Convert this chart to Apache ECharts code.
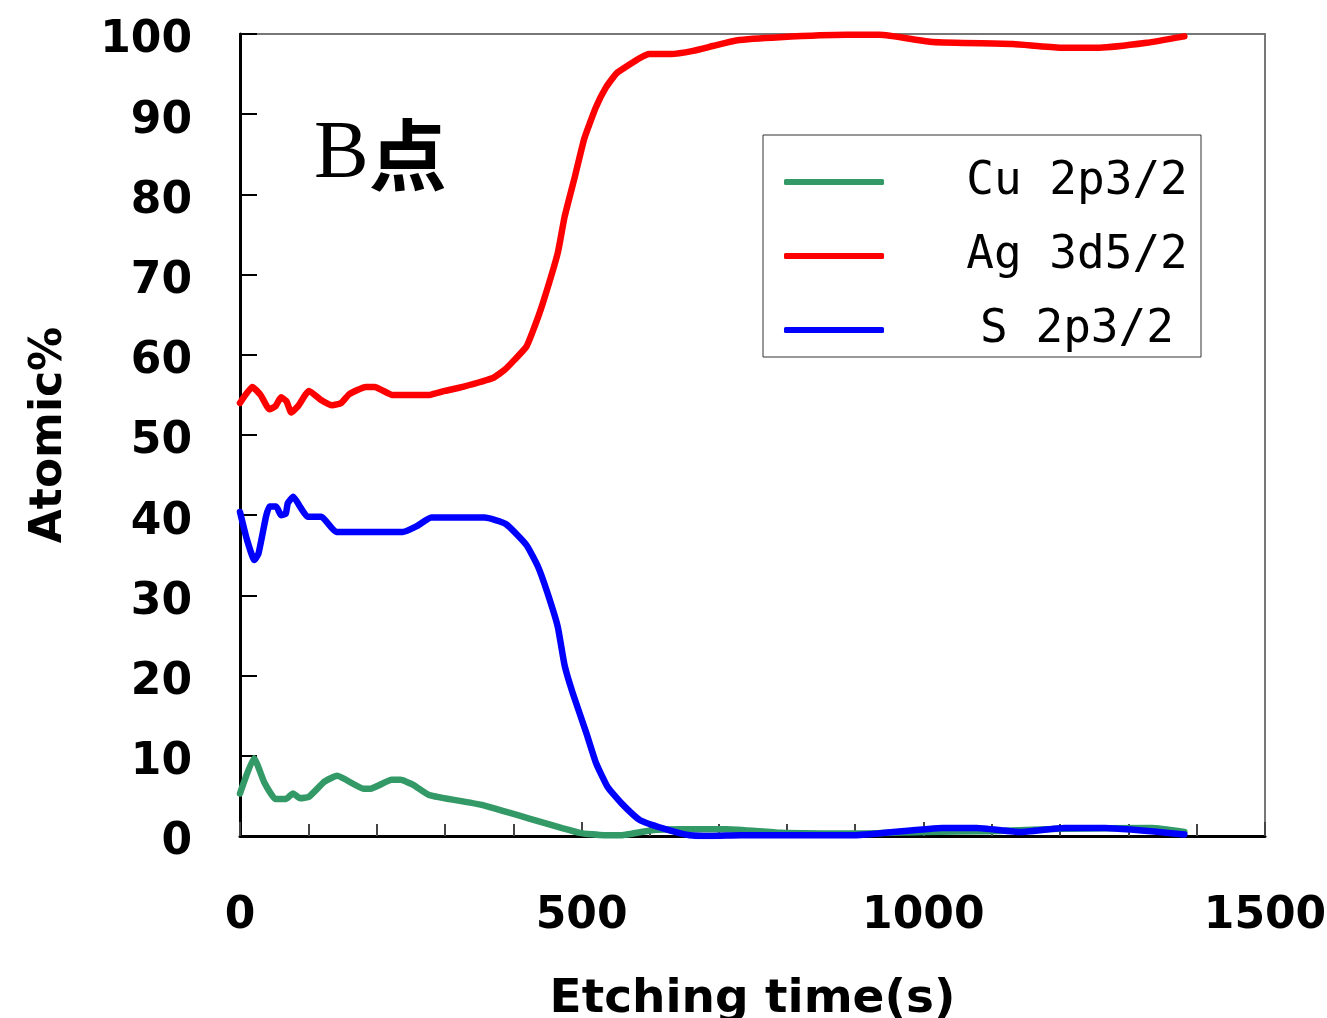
<!DOCTYPE html>
<html>
<head>
<meta charset="utf-8">
<script src="https://cdn.jsdelivr.net/npm/echarts@6/dist/echarts.min.js"></script>
<style>
html,body{margin:0;padding:0;background:#fff;}
#chart{width:1327px;height:1018px;}
</style>
</head>
<body>
<div id="chart"></div>
<script>
const seriesNames = ['Cu 2p3/2', 'Ag 3d5/2', 'S 2p3/2'];
const xTicks = [0, 500, 1000, 1500];
const yTicks = [0, 10, 20, 30, 40, 50, 60, 70, 80, 90, 100];

const cuData = [[0,5.3],[20.5,9.7],[36,6.6],[52,4.6],[67,4.6],[77.5,5.3],[88,4.7],[101,4.9],[124,6.8],[142,7.5],[181,5.9],[191,5.9],[222,7.0],[235,7.0],[253,6.4],[277,5.1],[352,3.9],[497,0.4],[533,0.1],[558,0.1],[605,0.75],[646,0.85],[713,0.85],[791,0.4],[901,0.3],[1000,0.5],[1100,0.6],[1200,0.9],[1334,1.0],[1382,0.5]];

const agData = [[0,54.0],[18,56.0],[30,55.0],[43,53.2],[52,53.6],[60,54.7],[68,54.2],[75,52.8],[85,53.6],[101,55.5],[118,54.4],[135,53.7],[148,54.0],[160,55.1],[184,56.0],[197,56.0],[223,55.0],[277,55.0],[300,55.5],[326,56.0],[370,57.1],[387,58.1],[402,59.4],[419,61.0],[431,63.5],[443,66.4],[465,72.7],[475,77.2],[490,82.2],[504,87.0],[521,90.9],[536,93.4],[551,95.1],[570,96.2],[585,97.0],[599,97.5],[631,97.5],[663,97.9],[692,98.5],[726,99.2],[790,99.6],[887,99.9],[936,99.9],[1014,99.0],[1131,98.75],[1200,98.3],[1258,98.3],[1327,98.9],[1382,99.7]];

const sData = [[0,40.4],[10,37],[21,34.4],[27,35.2],[38,39.8],[43,41.1],[53,41.1],[60,40.0],[67,40.2],[70,41.5],[78,42.3],[89,40.9],[99,39.8],[119,39.8],[141,37.9],[238,37.9],[258,38.6],[280,39.7],[358,39.7],[389,38.9],[419,36.3],[436,33.6],[450,30.3],[465,26.1],[475,21.3],[487,17.8],[507,12.8],[521,9.1],[538,6.1],[558,4.1],[585,2.0],[619,0.96],[658,0.1],[690,0],[733,0.1],[901,0.1],[1028,1.0],[1078,1.0],[1142,0.5],[1206,1.0],[1266,1.0],[1382,0.2]];

const colors = ['#339966', '#ff0000', '#0000ff'];
const allData = [cuData, agData, sData];

const chart = echarts.init(document.getElementById('chart'), null, {renderer: 'canvas'});
const labelFont = {fontFamily: 'DejaVu Sans', fontWeight: 'bold', fontSize: 44, color: '#000'};

chart.setOption({
  animation: false,
  backgroundColor: '#fff',
  grid: {left: 240, right: 62, top: 34, bottom: 182, show: true, borderColor: '#777', borderWidth: 2, containLabel: false, outerBoundsMode: 'none'},
  legend: {
    orient: 'vertical', left: 763, top: 135,
    padding: [24, 12, 4, 21],
    itemGap: 28,
    itemWidth: 100, itemHeight: 6,
    icon: 'roundRect',
    borderColor: '#333', borderWidth: 1,
    backgroundColor: '#fff',
    data: seriesNames,
    formatter: '{t|{name}}',
    textStyle: {
      padding: [0, 0, 0, 76],
      rich: {t: {width: 224, align: 'center', fontFamily: 'DejaVu Sans Mono', fontSize: 46, lineHeight: 50, color: '#000'}}
    }
  },
  xAxis: {
    type: 'value', min: xTicks[0], max: xTicks[xTicks.length - 1], interval: 500,
    name: 'Etching time(s)', nameLocation: 'middle', nameGap: 140,
    nameTextStyle: Object.assign({}, labelFont, {fontSize: 47}),
    axisLine: {show: true, lineStyle: {color: '#000', width: 3}},
    axisTick: {show: true, inside: true, length: 14, lineStyle: {color: '#444', width: 2}},
    minorTick: {show: true, splitNumber: 5, length: 12, lineStyle: {color: '#444', width: 2}},
    splitLine: {show: false},
    axisLabel: Object.assign({margin: 59, formatter: v => xTicks.includes(v) ? String(v) : ''}, labelFont)
  },
  yAxis: {
    type: 'value', min: yTicks[0], max: yTicks[yTicks.length - 1], interval: 10,
    name: 'Atomic%', nameLocation: 'middle', nameGap: 168, nameRotate: 90,
    nameTextStyle: labelFont,
    axisLine: {show: true, lineStyle: {color: '#000', width: 3}},
    axisTick: {show: true, inside: true, length: 17, lineStyle: {color: '#000', width: 2}},
    splitLine: {show: false},
    axisLabel: {
      margin: 48,
      formatter: '{v|{value}}',
      rich: {v: Object.assign({padding: [14, 0, 0, 0]}, labelFont)}
    }
  },
  graphic: [{
    type: 'text', left: 314, top: 114, z: 10,
    style: {
      text: '{b|B}{c|点}',
      rich: {
        b: {fontFamily: 'Liberation Serif', fontSize: 82, color: '#000'},
        c: {fontFamily: 'Noto Sans CJK SC', fontWeight: 'bold', fontSize: 78, color: '#000'}
      }
    }
  }],
  series: seriesNames.map((n, i) => ({
    name: n, type: 'line', data: allData[i], symbol: 'none', smooth: 0.15,
    lineStyle: {color: colors[i], width: 6.5, cap: 'round', join: 'round'},
    itemStyle: {color: colors[i]}
  }))
});
</script>
</body>
</html>
